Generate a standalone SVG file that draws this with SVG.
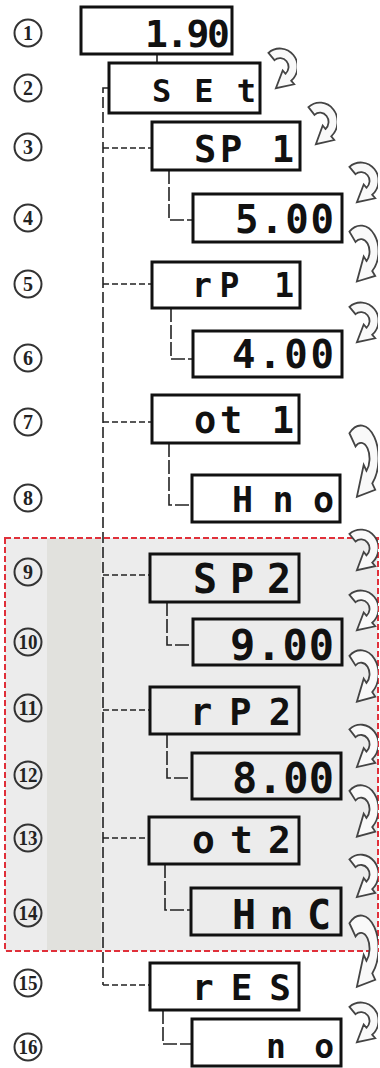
<svg xmlns="http://www.w3.org/2000/svg" width="380" height="1068" viewBox="0 0 380 1068">
<style>
.box{fill:none;stroke:#111;stroke-width:3}
.lcd{font-family:"DejaVu Sans Mono","Liberation Mono",monospace;font-weight:bold;fill:#111}
.num circle{fill:none;stroke:#333;stroke-width:2}
.num text{font-family:"Liberation Serif",serif;font-weight:bold;font-size:20px;fill:#222;text-anchor:middle}
.trunk{fill:none;stroke:#222;stroke-width:1.6;stroke-dasharray:11 4}
.branch{fill:none;stroke:#222;stroke-width:1.6;stroke-dasharray:6 3}
.sub{fill:none;stroke:#222;stroke-width:1.6;stroke-dasharray:14 3}
.arr{fill:#f9f9f9;stroke:#444;stroke-width:1.8}
</style>
<defs>
<symbol id="arrow" viewBox="0 0 30 40" preserveAspectRatio="none">
<path class="arr" vector-effect="non-scaling-stroke" d="M3.2,6.2 A16.5,16.5 0 0 1 24.6,31.6 L27.4,34.8 L10.2,38.4 L16.6,22.2 L19.2,25.2 A8,8 0 0 0 8.9,12.9 Z"/>
</symbol>
</defs>
<rect x="0" y="0" width="380" height="1068" fill="#fff"/>
<g id="region">
<rect x="5" y="538" width="373" height="413" fill="#ececec"/>
<rect x="47" y="539" width="54" height="411" fill="#e1e1dd"/>
<rect x="5" y="538" width="373" height="413" fill="none" stroke="#e0303a" stroke-width="2" stroke-dasharray="6 3"/>
</g>
<g id="connectors">
<line x1="157" y1="54" x2="157" y2="63" stroke="#222" stroke-width="1.6"/>
<path class="trunk" d="M109,88 H103 V985"/>
<path class="branch" d="M103,148 H152"/>
<path class="branch" d="M103,284 H152"/>
<path class="branch" d="M103,422 H152"/>
<path class="branch" d="M103,575 H150"/>
<path class="branch" d="M103,710 H150"/>
<path class="branch" d="M103,838 H149"/>
<path class="branch" d="M103,985 H150"/>
<path class="sub" d="M169,170 V220 H193"/>
<path class="sub" d="M171,308 V359 H193"/>
<path class="sub" d="M169,443 V505 H192"/>
<path class="sub" d="M167,602 V645 H193"/>
<path class="sub" d="M167,734 V778 H192"/>
<path class="sub" d="M165,864 V910 H191"/>
<path class="sub" d="M163,1010 V1044 H192"/>
</g>
<g id="arrows">
<use href="#arrow" x="265" y="46" width="32" height="44"/>
<use href="#arrow" x="305" y="100" width="32" height="46"/>
<use href="#arrow" x="346" y="160" width="32" height="44"/>
<use href="#arrow" x="346" y="222" width="32" height="62"/>
<use href="#arrow" x="346" y="300" width="32" height="44"/>
<use href="#arrow" x="346" y="421" width="32" height="79"/>
<use href="#arrow" x="346" y="527" width="32" height="45"/>
<use href="#arrow" x="346" y="588" width="32" height="44"/>
<use href="#arrow" x="346" y="647" width="32" height="57"/>
<use href="#arrow" x="346" y="722" width="32" height="47"/>
<use href="#arrow" x="346" y="782" width="32" height="57"/>
<use href="#arrow" x="346" y="852" width="32" height="47"/>
<use href="#arrow" x="346" y="911" width="32" height="79"/>
<use href="#arrow" x="346" y="1000" width="32" height="44"/>
</g>
<g id="numbers" class="num">
<g id="n1"><circle cx="28" cy="33" r="13.5"/><text x="28" y="40">1</text></g>
<g id="n2"><circle cx="28" cy="88" r="13.5"/><text x="28" y="95">2</text></g>
<g id="n3"><circle cx="28" cy="147" r="13.5"/><text x="28" y="154">3</text></g>
<g id="n4"><circle cx="28" cy="218" r="13.5"/><text x="28" y="225">4</text></g>
<g id="n5"><circle cx="28" cy="284" r="13.5"/><text x="28" y="291">5</text></g>
<g id="n6"><circle cx="28" cy="358" r="13.5"/><text x="28" y="365">6</text></g>
<g id="n7"><circle cx="28" cy="422" r="13.5"/><text x="28" y="429">7</text></g>
<g id="n8"><circle cx="28" cy="498" r="13.5"/><text x="28" y="505">8</text></g>
<g id="n9"><circle cx="28" cy="572" r="13.5"/><text x="28" y="579">9</text></g>
<g id="n10"><circle cx="28" cy="642" r="13.5"/><text x="28" y="649" textLength="19" lengthAdjust="spacingAndGlyphs">10</text></g>
<g id="n11"><circle cx="28" cy="708" r="13.5"/><text x="28" y="715" textLength="19" lengthAdjust="spacingAndGlyphs">11</text></g>
<g id="n12"><circle cx="28" cy="775" r="13.5"/><text x="28" y="782" textLength="19" lengthAdjust="spacingAndGlyphs">12</text></g>
<g id="n13"><circle cx="28" cy="838" r="13.5"/><text x="28" y="845" textLength="19" lengthAdjust="spacingAndGlyphs">13</text></g>
<g id="n14"><circle cx="28" cy="913" r="13.5"/><text x="28" y="920" textLength="19" lengthAdjust="spacingAndGlyphs">14</text></g>
<g id="n15"><circle cx="28" cy="983" r="13.5"/><text x="28" y="990" textLength="19" lengthAdjust="spacingAndGlyphs">15</text></g>
<g id="n16"><circle cx="28" cy="1047" r="13.5"/><text x="28" y="1054" textLength="19" lengthAdjust="spacingAndGlyphs">16</text></g>
</g>
<g id="node1"><rect class="box" x="81" y="7" width="151" height="47"/><text class="lcd" x="145" y="47" font-size="38" textLength="85">1.90</text></g>
<g id="node2"><rect class="box" x="109" y="63" width="151" height="50"/><text class="lcd" x="152" y="102" font-size="32" textLength="104">SEt</text></g>
<g id="node3"><rect class="box" x="152" y="122" width="148" height="48"/><text class="lcd" x="194" y="162" font-size="37" textLength="100">SP 1</text></g>
<g id="node4"><rect class="box" x="193" y="194" width="149" height="48"/><text class="lcd" x="235" y="233" font-size="39" textLength="99">5.00</text></g>
<g id="node5"><rect class="box" x="152" y="262" width="148" height="46"/><text class="lcd" x="192" y="297" font-size="33" textLength="102">rP 1</text></g>
<g id="node6"><rect class="box" x="193" y="331" width="149" height="46"/><text class="lcd" x="232" y="368" font-size="39" textLength="102">4.00</text></g>
<g id="node7"><rect class="box" x="152" y="395" width="147" height="48"/><text class="lcd" x="194" y="433" font-size="37" textLength="100">ot 1</text></g>
<g id="node8"><rect class="box" x="192" y="475" width="148" height="47"/><text class="lcd" x="232" y="512" font-size="35" textLength="102">Hno</text></g>
<g id="node9"><rect class="box" x="150" y="554" width="149" height="48"/><text class="lcd" x="193" y="593" font-size="40" textLength="98">SP2</text></g>
<g id="node10"><rect class="box" x="193" y="619" width="149" height="46"/><text class="lcd" x="230" y="660" font-size="42" textLength="104">9.00</text></g>
<g id="node11"><rect class="box" x="150" y="687" width="149" height="47"/><text class="lcd" x="190" y="725" font-size="37" textLength="101">rP2</text></g>
<g id="node12"><rect class="box" x="192" y="753" width="149" height="46"/><text class="lcd" x="232" y="793" font-size="42" textLength="102">8.00</text></g>
<g id="node13"><rect class="box" x="149" y="817" width="150" height="47"/><text class="lcd" x="192" y="853" font-size="38" textLength="99">ot2</text></g>
<g id="node14"><rect class="box" x="191" y="888" width="150" height="47"/><text class="lcd" x="232" y="929" font-size="40" textLength="99">HnC</text></g>
<g id="node15"><rect class="box" x="150" y="963" width="149" height="47"/><text class="lcd" x="192" y="1000" font-size="36" textLength="99">rES</text></g>
<g id="node16"><rect class="box" x="192" y="1019" width="149" height="47"/><text class="lcd" x="266" y="1058" font-size="33" textLength="68">no</text></g>
</svg>
